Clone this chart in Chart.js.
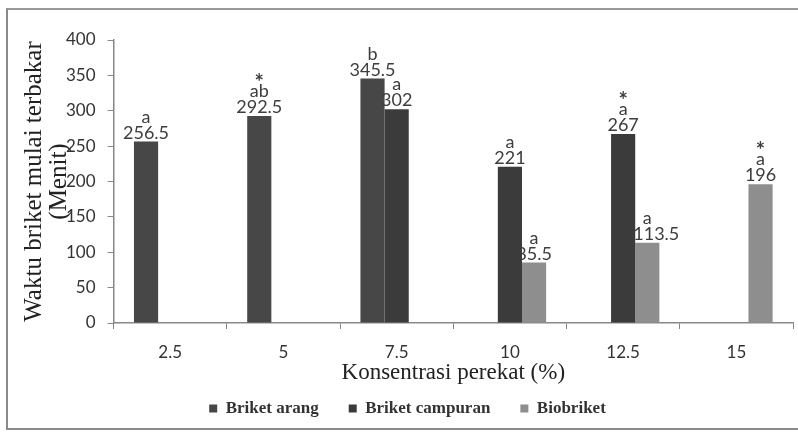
<!DOCTYPE html>
<html>
<head>
<meta charset="utf-8">
<script src="https://cdn.jsdelivr.net/npm/chart.js@4/dist/chart.umd.min.js"></script>
<style>
  html, body { margin: 0; padding: 0; background: #fff; }
  #wrap { position: relative; width: 798px; height: 432px; overflow: hidden; }
  #frame {
    position: absolute; left: 6px; top: 8px; width: 900px; height: 418px;
    border-left: 2px solid #8a8a8a; border-top: 2px solid #9a9a9a; border-bottom: 2px solid #8a8a8a;
  }
  canvas { position: absolute; left: 0; top: 0; }
</style>
</head>
<body>
<div id="wrap">
  <div id="frame"></div>
  <canvas id="chart" width="798" height="432"></canvas>
</div>
<script>
// data
const categories = ['2.5', '5', '7.5', '10', '12.5', '15'];

const briketArang    = [256.5, 292.5, 345.5, null, null, null];
const briketCampuran = [null, null, 302, 221, 267, null];
const biobriket      = [null, null, null, 85.5, 113.5, 196];

// significance letters and asterisks written above each bar
const arangLetters    = ['a', 'ab', 'b', null, null, null];
const arangStars      = [false, true, false, false, false, false];
const campuranLetters = [null, null, 'a', 'a', 'a', null];
const campuranStars   = [false, false, false, false, true, false];
const bioLetters      = [null, null, null, 'a', 'a', 'a'];
const bioStars        = [false, false, false, false, false, true];

const yTicks = [0, 50, 100, 150, 200, 250, 300, 350, 400];

const serif = '"Liberation Serif", "DejaVu Serif", serif';
const sans = 'Lato, "Open Sans", sans-serif';

/* ---------- labels above bars ---------- */
const barLabels = {
  id: 'barLabels',
  afterDatasetsDraw(chart) {
    const ctx = chart.ctx;
    const extra = [
      { letters: arangLetters, stars: arangStars },
      { letters: campuranLetters, stars: campuranStars },
      { letters: bioLetters, stars: bioStars }
    ];
    ctx.save();
    ctx.textAlign = 'center';
    ctx.textBaseline = 'alphabetic';
    ctx.fillStyle = '#3d3d3d';
    chart.data.datasets.forEach((ds, di) => {
      const meta = chart.getDatasetMeta(di);
      meta.data.forEach((bar, i) => {
        const v = ds.data[i];
        if (v === null || v === undefined) return;
        const lines = [];
        if (extra[di].stars[i]) lines.push('*');
        if (extra[di].letters[i]) lines.push(extra[di].letters[i]);
        lines.push(String(v));
        // long numbers next to a dark bar get pushed a bit to the right, like the original
        const neighbour = di > 0 && chart.data.datasets[di - 1].data[i] != null;
        let y = bar.y - 3;
        for (let k = lines.length - 1; k >= 0; k--) {
          const isNum = k === lines.length - 1;
          const dx = (isNum && neighbour && lines[k].length > 4 && bar.height < 120) ? 9 : 0;
          ctx.font = (lines[k] === '*' ? 'bold 22px ' : '18px ') + sans;
          ctx.fillText(lines[k], bar.x + dx, lines[k] === '*' ? y + 9 : y);
          y -= 16;
        }
      });
    });
    ctx.restore();
  }
};

new Chart(document.getElementById('chart'), {
  type: 'bar',
  data: {
    labels: categories,
    datasets: [
      { label: 'Briket arang', data: briketArang, backgroundColor: '#474747' },
      { label: 'Briket campuran', data: briketCampuran, backgroundColor: '#3b3b3b' },
      { label: 'Biobriket', data: biobriket, backgroundColor: '#8e8e8e' }
    ]
  },
  options: {
    responsive: false,
    animation: false,
    categoryPercentage: 0.64,
    barPercentage: 1.0,
    layout: { padding: { top: 40, right: 5, bottom: 5, left: 22 } },
    plugins: {
      legend: {
        position: 'bottom',
        labels: {
          font: { family: serif, size: 17, weight: 'bold' },
          color: '#333',
          boxWidth: 8,
          boxHeight: 8,
          padding: 30
        }
      },
      tooltip: { enabled: false }
    },
    scales: {
      x: {
        offset: true,
        grid: { offset: true, drawOnChartArea: false, drawTicks: true, tickLength: 6, color: '#888' },
        border: { color: '#888', width: 1.5 },
        ticks: { font: { family: sans, size: 17 }, color: '#333', padding: 13 },
        title: {
          display: true,
          text: 'Konsentrasi perekat (%)',
          font: { family: serif, size: 23 },
          color: '#222',
          padding: { top: -16, bottom: -17 }
        }
      },
      y: {
        min: 0,
        max: 400,
        afterBuildTicks(scale) { scale.ticks = yTicks.map(v => ({ value: v })); },
        grid: { drawOnChartArea: false, drawTicks: true, tickLength: 6, color: '#888' },
        border: { color: '#888', width: 1.5 },
        ticks: { font: { family: sans, size: 17 }, color: '#333', padding: 12 },
        title: {
          display: true,
          text: ['Waktu briket mulai terbakar', '(Menit)'],
          font: { family: serif, size: 25, lineHeight: 1.0 },
          color: '#222',
          padding: { top: 0, bottom: -18 }
        }
      }
    }
  },
  plugins: [barLabels]
});
</script>
</body>
</html>
